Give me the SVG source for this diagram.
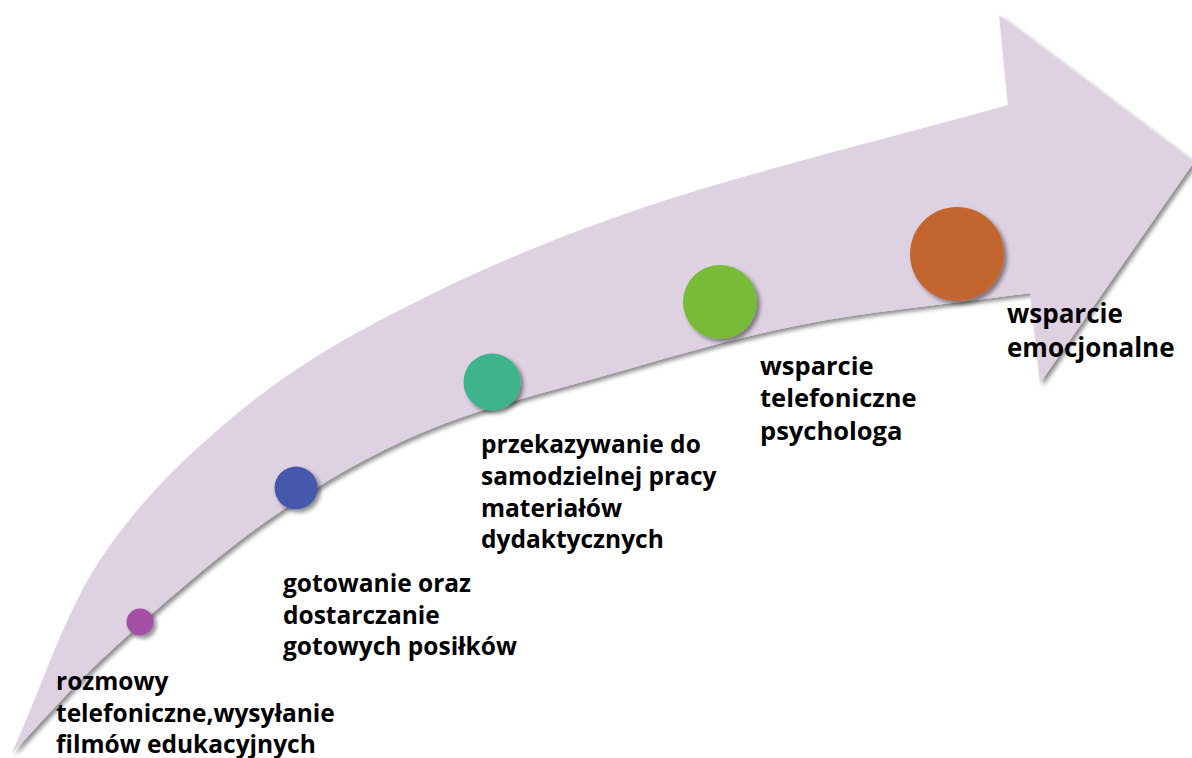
<svg xmlns="http://www.w3.org/2000/svg" width="1192" height="758" viewBox="0 0 1192 758">
<defs>
<filter id="sh" x="-20%" y="-20%" width="140%" height="140%">
<feDropShadow dx="3" dy="3" stdDeviation="2" flood-color="#000" flood-opacity="0.45"/>
</filter>
</defs>
<style>
.lbl{font-family:"Open Sans","Noto Sans","Liberation Sans",sans-serif;font-weight:bold;font-size:24.5px;fill:#000}
.big{font-size:25.5px}
.big2{font-size:26px}
.dot{filter:url(#sh)}
</style>
<rect width="1192" height="758" fill="#fff"/>
<g id="arrow">
<path filter="url(#sh)" fill="#DED1E1" d="M 12 753 C 41.3 688.7, 63.2 616, 100 560 C 136.8 504, 183 458.7, 233 417 C 283 375.3, 331.3 345, 400 310 C 468.7 275, 543.7 241.2, 645 207 C 746.3 172.8, 887 139, 1008 105 L 999 15 L 1194 162 L 1040 383 L 1030 293 C 953.3 303.7, 871.7 311, 800 325 C 728.3 339, 663.2 359, 600 377 C 536.8 395, 476.3 409.2, 421 433 C 365.7 456.8, 319 484.3, 268 520 C 217 555.7, 157.7 608.2, 115 647 C 72.3 685.8, 46.3 717.7, 12 753 Z"/>
</g>
<g id="node1">
<circle class="dot" cx="140" cy="622" r="13.5" fill="#A34FA4"/>
<text class="lbl"><tspan x="56" y="690">rozmowy</tspan><tspan x="56" y="721.5">telefoniczne,wysyłanie</tspan><tspan x="56" y="753">filmów edukacyjnych</tspan></text>
</g>
<g id="node2">
<circle class="dot" cx="296" cy="488" r="21.5" fill="#4558AB"/>
<text class="lbl"><tspan x="283" y="592">gotowanie oraz</tspan><tspan x="283" y="623.5">dostarczanie</tspan><tspan x="283" y="655">gotowych posiłków</tspan></text>
</g>
<g id="node3">
<circle class="dot" cx="492" cy="382" r="28.5" fill="#3CB48B"/>
<text class="lbl"><tspan x="481" y="453">przekazywanie do</tspan><tspan x="481" y="485">samodzielnej pracy</tspan><tspan x="481" y="516.5">materiałów</tspan><tspan x="481" y="548">dydaktycznych</tspan></text>
</g>
<g id="node4">
<circle class="dot" cx="720" cy="302" r="37" fill="#78BB37"/>
<text class="lbl big"><tspan x="760" y="374.5">wsparcie</tspan><tspan x="760" y="407">telefoniczne</tspan><tspan x="760" y="439.5">psychologa</tspan></text>
</g>
<g id="node5">
<circle class="dot" cx="957" cy="254" r="47" fill="#C3652E"/>
<text class="lbl big2"><tspan x="1007" y="323">wsparcie</tspan><tspan x="1007" y="357">emocjonalne</tspan></text>
</g>
<g id="connectors"></g>
</svg>
